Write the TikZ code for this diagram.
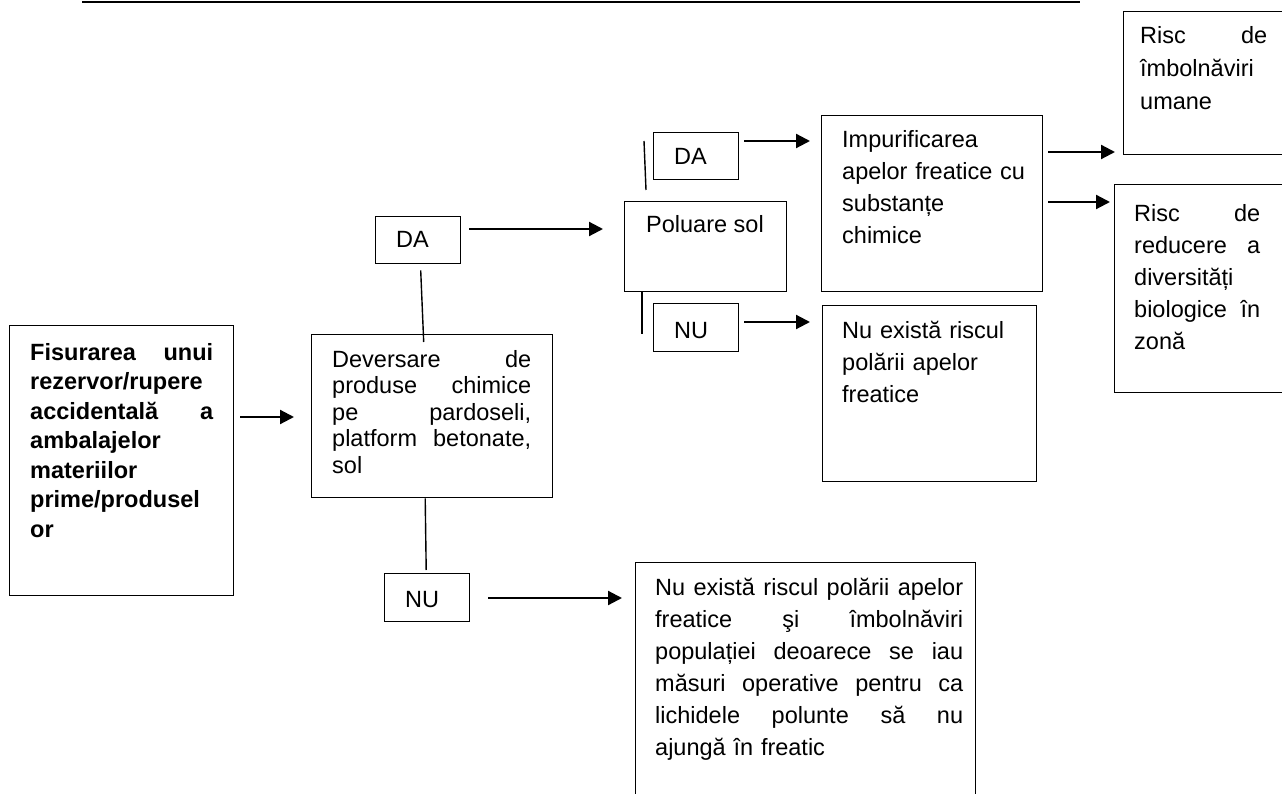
\documentclass[tikz,border=0pt]{standalone}
\usepackage{fontspec}
\setmainfont{Liberation Sans}
\usetikzlibrary{arrows.meta,calc}
\newcommand\jl[1]{\leavevmode\hbox to\hsize{#1}}
\begin{document}
\begin{tikzpicture}[x=1pt,y=-1pt,
  box/.style={draw,line width=1.4pt,anchor=north west,inner sep=0pt},
  txt/.style={anchor=base west,inner sep=0pt,align=left,font=\fontsize{23.5}{32}\selectfont},
  arr/.style={line width=2.2pt,-{Triangle[length=14pt,width=14pt]}},
  ln/.style={line width=1.4pt}]
\useasboundingbox (0,0) rectangle (1282,794);
% top rule
\draw[line width=2pt] (82,2) -- (1080,2);
% boxes
\node[box,minimum width=224pt,minimum height=270pt] (fis) at (9,325) {};
\node[box,minimum width=241pt,minimum height=163pt] (dev) at (311,334) {};
\node[box,minimum width=85pt,minimum height=47pt] (da1) at (375,216) {};
\node[box,minimum width=85pt,minimum height=48pt] (nu1) at (384,573) {};
\node[box,minimum width=162pt,minimum height=90pt] (pol) at (624,201) {};
\node[box,minimum width=85pt,minimum height=47pt] (da2) at (653,132) {};
\node[box,minimum width=85pt,minimum height=48pt] (nu2) at (653,303) {};
\node[box,minimum width=221pt,minimum height=176pt] (imp) at (821,115) {};
\node[box,minimum width=214pt,minimum height=176pt] (nuf) at (822,305) {};
\node[box,minimum width=175pt,minimum height=143pt] (r1) at (1123,11) {};
\node[box,minimum width=180pt,minimum height=208pt] (r2) at (1114,184) {};
\node[box,minimum width=340pt,minimum height=260pt] (big) at (635,562) {};
% texts
\node[txt,text width=183pt,font=\fontsize{23.5}{29.5}\selectfont\bfseries] (fist) at (30,360)
 {\jl{Fisurarea\hfill unui}\\rezervor/rupere\\\jl{accidentală\hfill a}\\ambalajelor\\materiilor\\prime/produsel\\or};
\node[txt,text width=199pt,font=\fontsize{23.5}{26.5}\selectfont] (devt) at (332,367)
 {\jl{Deversare\hfill de}\\\jl{produse\hfill chimice}\\\jl{pe\hfill pardoseli,}\\\jl{platform\hfill betonate,}\\sol};
\node[txt] (da1t) at (396,248) {DA};
\node[txt] (nu1t) at (405,607) {NU};
\node[txt] (polt) at (646,233) {Poluare sol};
\node[txt] (da2t) at (674,165) {DA};
\node[txt] (nu2t) at (674,338) {NU};
\node[txt,text width=190pt] (impt) at (842,148)
 {Impurificarea\\apelor freatice cu\\substanțe\\chimice};
\node[txt,text width=190pt] (nuft) at (842,338)
 {Nu există riscul\\polării apelor\\freatice};
\node[txt,text width=127pt,font=\fontsize{23.5}{33}\selectfont] (r1t) at (1140,44)
 {\jl{Risc\hfill de}\\îmbolnăviri\\umane};
\node[txt,text width=126pt] (r2t) at (1134,222)
 {\jl{Risc\hfill de}\\\jl{reducere\hfill a}\\diversități\\\jl{biologice\hfill în}\\zonă};
\node[txt,text width=308pt] (bigt) at (655,595)
 {\jl{Nu\hfill există\hfill riscul\hfill polării\hfill apelor}\\\jl{freatice\hfill şi\hfill îmbolnăviri}\\\jl{populației\hfill deoarece\hfill se\hfill iau}\\\jl{măsuri\hfill operative\hfill pentru\hfill ca}\\\jl{lichidele\hfill polunte\hfill să\hfill nu}\\ajungă în freatic};
% arrows
\draw[arr] ($(fis.north east)+(6,92)$) -- ($(dev.north west)+(-17,83)$);
\draw[arr] ($(da1.north east)+(8,13)$) -- ($(pol.north west)+(-21,28)$);
\draw[arr] ($(da2.north east)+(5,9)$) -- ($(imp.north west)+(-11,26)$);
\draw[arr] ($(nu2.north east)+(5,19)$) -- ($(nuf.north west)+(-12,17)$);
\draw[arr] ($(nu1.north east)+(18,25)$) -- ($(big.north west)+(-13,36)$);
\draw[arr] ($(imp.north east)+(5,37)$) -- ($(r1.north west)+(-8,141)$);
\draw[arr] ($(imp.north east)+(5,87)$) -- ($(r2.north west)+(-4,18)$);
% plain lines
\draw[ln] ($(da1.south)+(2.5,6)$) -- ($(da1.south |- dev.north)+(5.5,8)$);
\draw[ln] ($(dev.south)+(-7,0)$) -- ($(nu1.north)+(-1,-3)$);
\draw[ln] ($(da2.north west)+(-9,9)$) -- ($(pol.north west)+(22,-11)$);
\draw[ln] ($(pol.south west)+(18,0)$) -- ($(nu2.west)+(-11,6)$);
\end{tikzpicture}
\end{document}
